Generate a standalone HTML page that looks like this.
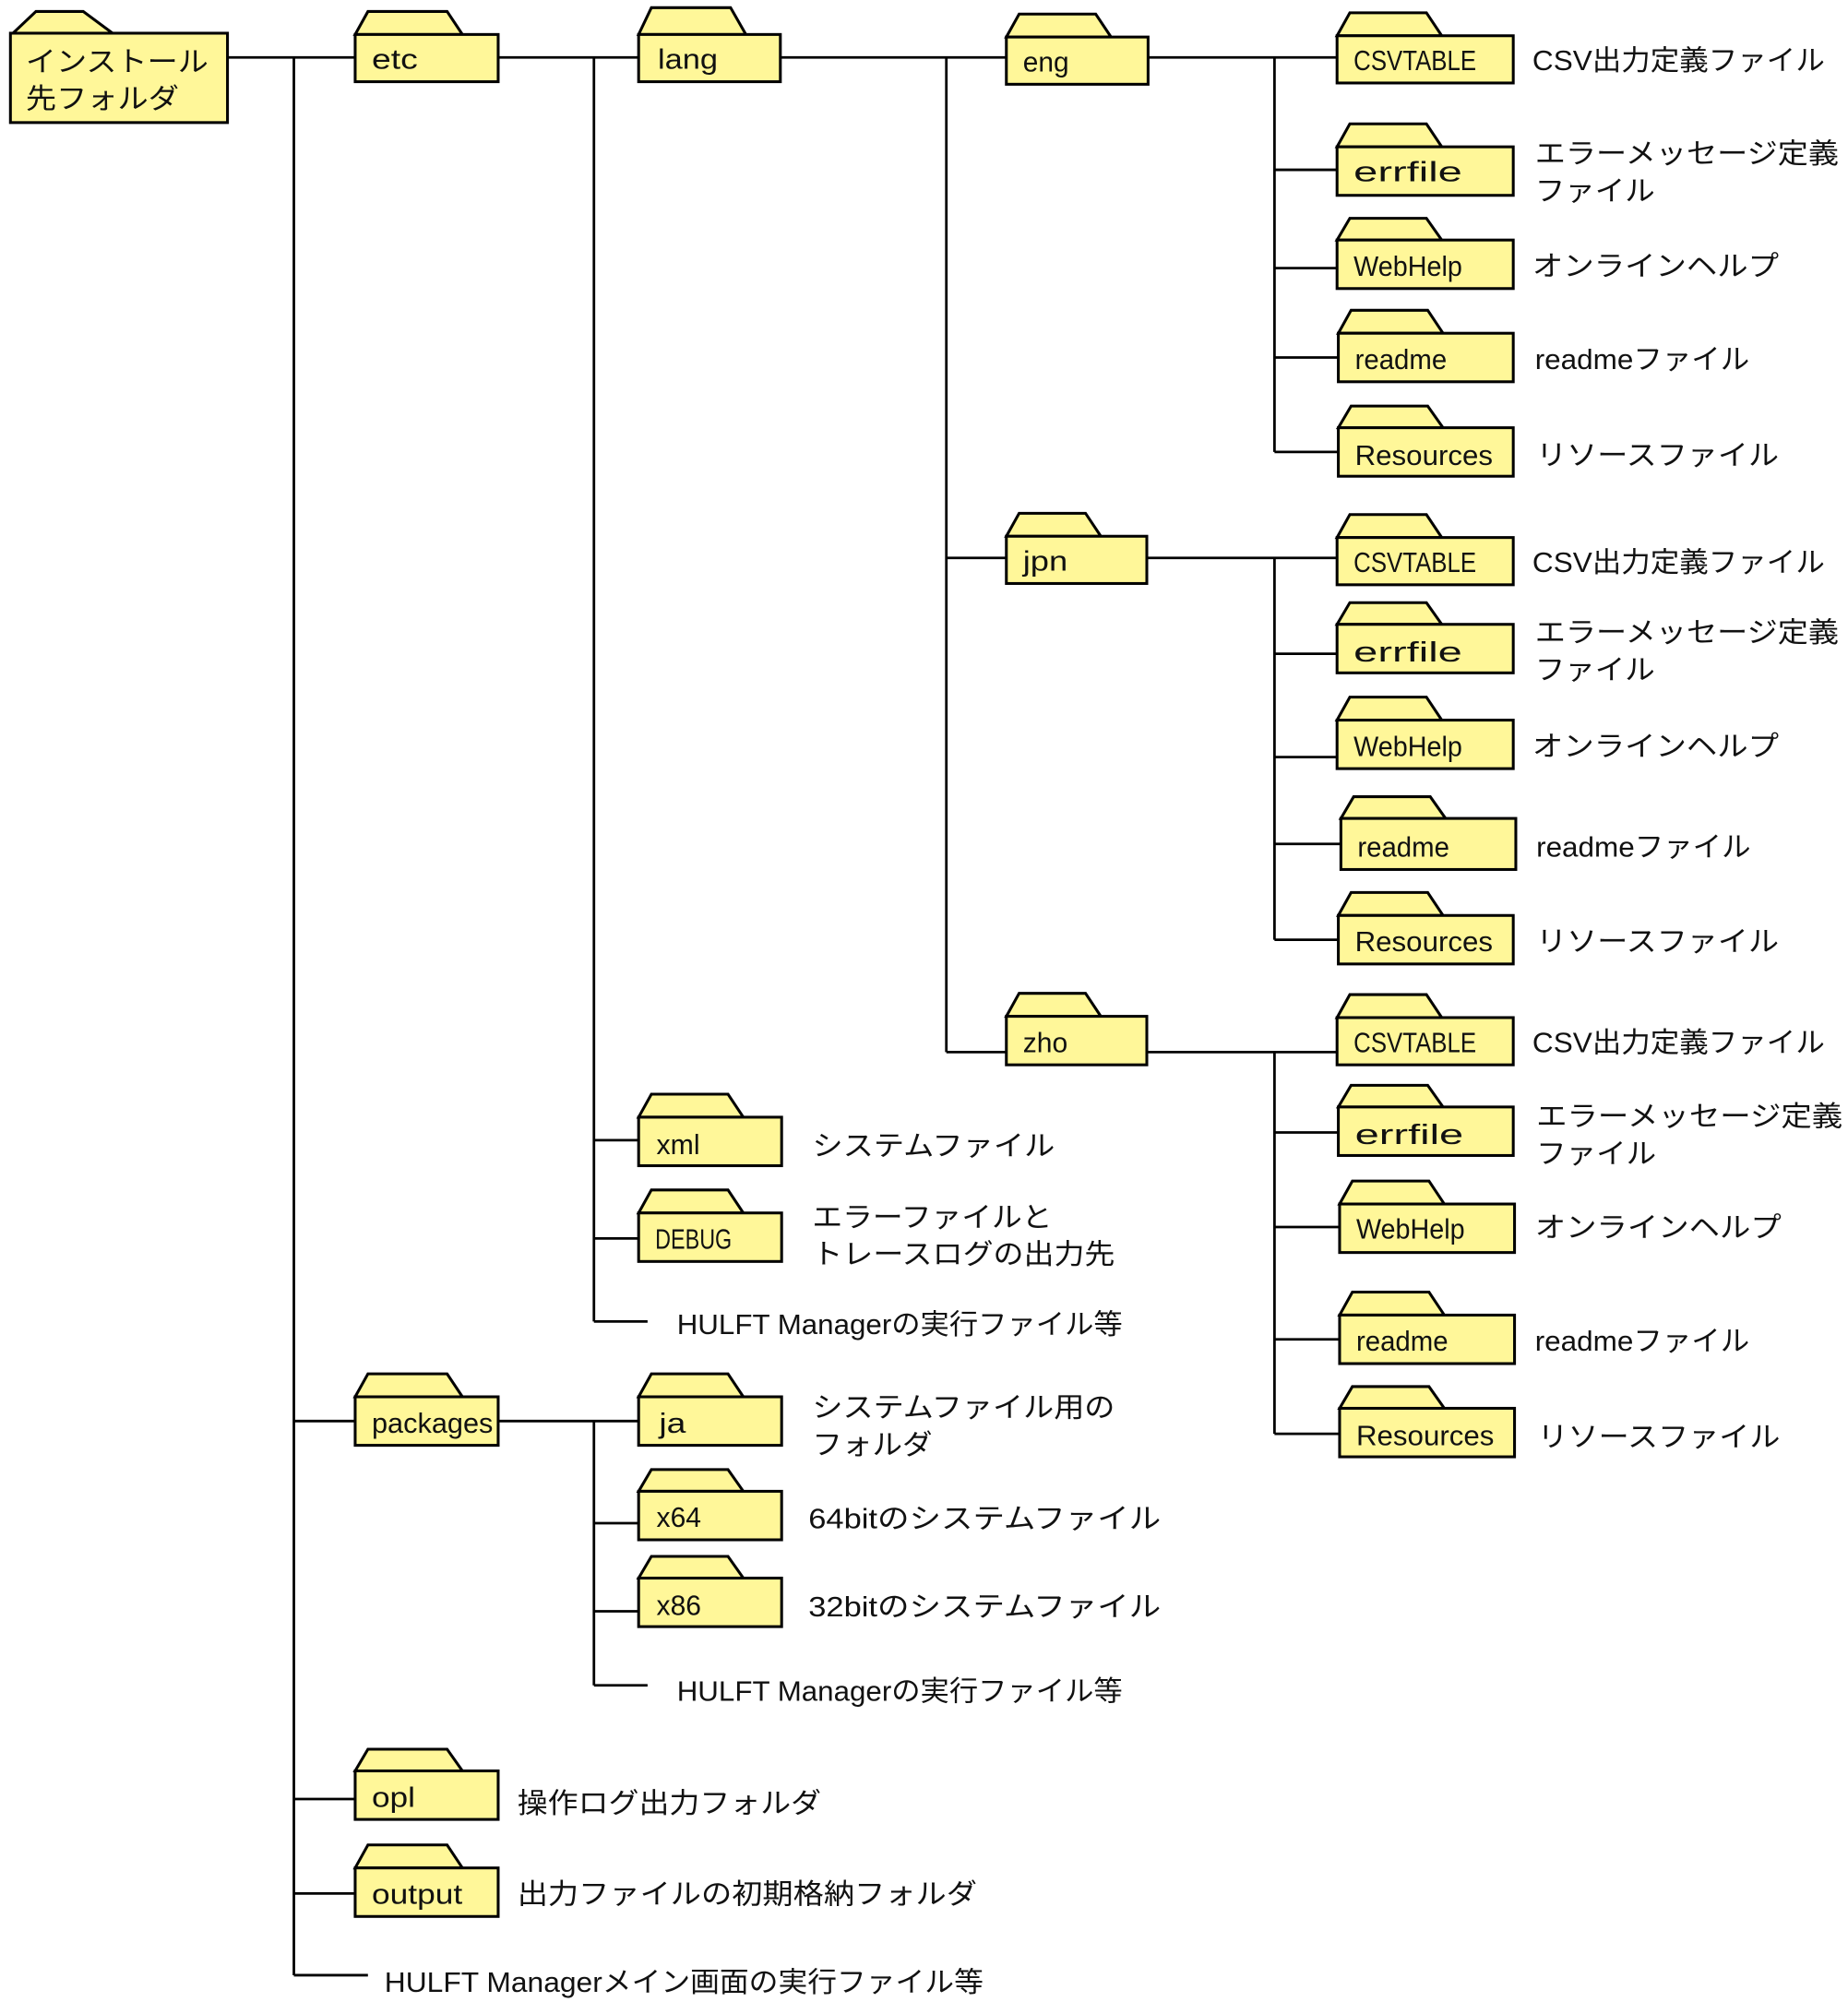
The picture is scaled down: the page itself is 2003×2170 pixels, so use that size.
<!DOCTYPE html>
<html><head><meta charset="utf-8"><style>
html,body{margin:0;padding:0;background:#fff;}
svg{display:block;}
text{font-family:"Liberation Sans","Noto Sans CJK JP",sans-serif;font-size:22px;fill:#111;}
.f path,.f rect{fill:#fff799;stroke:#000;stroke-width:2.2;}
.l{stroke:#000;stroke-width:2;fill:none;}
</style></head><body>
<svg width="2003" height="2170" viewBox="0 0 1447 1568" xmlns="http://www.w3.org/2000/svg">
<g class="l">
<path d="M178 45H278M230 45V1547M230 1113H278M230 1409H278M230 1483H278M230 1547H288"/>
<path d="M390 45H500M465 45V1035M465 893H500M465 970H500M465 1035H507"/>
<path d="M611 45H788M741 45V824M741 437H788M741 824H788"/>
<path d="M899 45H1047M998 45V354M998 133H1047M998 210H1047M998 280H1048M998 354H1048"/>
<path d="M898 437H1047M998 437V736M998 512H1047M998 593H1047M998 661H1050M998 736H1048"/>
<path d="M898 824H1047M998 824V1123M998 887H1048M998 961H1049M998 1049H1049M998 1123H1049"/>
<path d="M390 1113H500M465 1113V1320M465 1193H500M465 1262H500M465 1320H507"/>
</g>
<g class="f">
<path d="M10 26L28 9H65L88 26Z"/><rect x="8" y="26" width="170" height="70"/>
<path d="M278 27L288 9H350L362 27Z"/><rect x="278" y="27" width="112" height="37"/>
<path d="M500 27L510 6H572L584 27Z"/><rect x="500" y="27" width="111" height="37"/>
<path d="M788 29L798 11H858L870 29Z"/><rect x="788" y="29" width="111" height="37"/>
<path d="M1047 28L1057 10H1117L1129 28Z"/><rect x="1047" y="28" width="138" height="37"/>
<path d="M1047 115L1057 97H1117L1129 115Z"/><rect x="1047" y="115" width="138" height="38"/>
<path d="M1047 188L1057 171H1117L1129 188Z"/><rect x="1047" y="188" width="138" height="38"/>
<path d="M1048 261L1058 243H1118L1130 261Z"/><rect x="1048" y="261" width="137" height="38"/>
<path d="M1048 335L1058 318H1118L1130 335Z"/><rect x="1048" y="335" width="137" height="38"/>
<path d="M788 420L798 402H850L862 420Z"/><rect x="788" y="420" width="110" height="37"/>
<path d="M1047 421L1057 403H1117L1129 421Z"/><rect x="1047" y="421" width="138" height="37"/>
<path d="M1047 489L1057 472H1117L1129 489Z"/><rect x="1047" y="489" width="138" height="38"/>
<path d="M1047 564L1057 546H1117L1129 564Z"/><rect x="1047" y="564" width="138" height="38"/>
<path d="M1050 641L1060 624H1120L1132 641Z"/><rect x="1050" y="641" width="137" height="40"/>
<path d="M1048 717L1058 699H1118L1130 717Z"/><rect x="1048" y="717" width="137" height="38"/>
<path d="M788 796L798 778H850L862 796Z"/><rect x="788" y="796" width="110" height="38"/>
<path d="M1047 797L1057 779H1117L1129 797Z"/><rect x="1047" y="797" width="138" height="37"/>
<path d="M1048 867L1058 850H1118L1130 867Z"/><rect x="1048" y="867" width="137" height="38"/>
<path d="M1049 943L1059 925H1119L1131 943Z"/><rect x="1049" y="943" width="137" height="38"/>
<path d="M1049 1030L1059 1012H1119L1131 1030Z"/><rect x="1049" y="1030" width="137" height="38"/>
<path d="M1049 1103L1059 1086H1119L1131 1103Z"/><rect x="1049" y="1103" width="137" height="38"/>
<path d="M500 875L510 857H570L582 875Z"/><rect x="500" y="875" width="112" height="38"/>
<path d="M500 950L510 932H570L582 950Z"/><rect x="500" y="950" width="112" height="38"/>
<path d="M278 1094L288 1076H350L362 1094Z"/><rect x="278" y="1094" width="112" height="38"/>
<path d="M500 1094L510 1076H570L582 1094Z"/><rect x="500" y="1094" width="112" height="38"/>
<path d="M500 1168L510 1151H570L582 1168Z"/><rect x="500" y="1168" width="112" height="38"/>
<path d="M500 1236L510 1219H570L582 1236Z"/><rect x="500" y="1236" width="112" height="38"/>
<path d="M278 1387L288 1370H350L362 1387Z"/><rect x="278" y="1387" width="112" height="38"/>
<path d="M278 1463L288 1445H350L362 1463Z"/><rect x="278" y="1463" width="112" height="38"/>
</g>
<g lengthAdjust="spacingAndGlyphs">
<text x="20" y="56" textLength="143" lengthAdjust="spacingAndGlyphs">インストール</text>
<text x="20" y="85" textLength="120" lengthAdjust="spacingAndGlyphs">先フォルダ</text>
<text x="291" y="54" textLength="36" lengthAdjust="spacingAndGlyphs">etc</text>
<text x="515" y="54" textLength="47" lengthAdjust="spacingAndGlyphs">lang</text>
<text x="801" y="56" textLength="36" lengthAdjust="spacingAndGlyphs">eng</text>
<text x="801" y="447" textLength="35" lengthAdjust="spacingAndGlyphs">jpn</text>
<text x="801" y="824" textLength="35" lengthAdjust="spacingAndGlyphs">zho</text>

<text x="1060" y="55" textLength="96" lengthAdjust="spacingAndGlyphs">CSVTABLE</text>
<text x="1060" y="142" textLength="85" lengthAdjust="spacingAndGlyphs">errfile</text>
<text x="1060" y="216" textLength="85" lengthAdjust="spacingAndGlyphs">WebHelp</text>
<text x="1061" y="289" textLength="72" lengthAdjust="spacingAndGlyphs">readme</text>
<text x="1061" y="364" textLength="108" lengthAdjust="spacingAndGlyphs">Resources</text>
<text x="1060" y="448" textLength="96" lengthAdjust="spacingAndGlyphs">CSVTABLE</text>
<text x="1060" y="518" textLength="85" lengthAdjust="spacingAndGlyphs">errfile</text>
<text x="1060" y="592" textLength="85" lengthAdjust="spacingAndGlyphs">WebHelp</text>
<text x="1063" y="671" textLength="72" lengthAdjust="spacingAndGlyphs">readme</text>
<text x="1061" y="745" textLength="108" lengthAdjust="spacingAndGlyphs">Resources</text>
<text x="1060" y="824" textLength="96" lengthAdjust="spacingAndGlyphs">CSVTABLE</text>
<text x="1061" y="896" textLength="85" lengthAdjust="spacingAndGlyphs">errfile</text>
<text x="1062" y="970" textLength="85" lengthAdjust="spacingAndGlyphs">WebHelp</text>
<text x="1062" y="1058" textLength="72" lengthAdjust="spacingAndGlyphs">readme</text>
<text x="1062" y="1132" textLength="108" lengthAdjust="spacingAndGlyphs">Resources</text>

<text x="514" y="904" textLength="34" lengthAdjust="spacingAndGlyphs">xml</text>
<text x="513" y="978" textLength="60" lengthAdjust="spacingAndGlyphs">DEBUG</text>
<text x="291" y="1122" textLength="95" lengthAdjust="spacingAndGlyphs">packages</text>
<text x="516" y="1122" textLength="21" lengthAdjust="spacingAndGlyphs">ja</text>
<text x="514" y="1196" textLength="35" lengthAdjust="spacingAndGlyphs">x64</text>
<text x="514" y="1265" textLength="35" lengthAdjust="spacingAndGlyphs">x86</text>
<text x="291" y="1415" textLength="34" lengthAdjust="spacingAndGlyphs">opl</text>
<text x="291" y="1491" textLength="71" lengthAdjust="spacingAndGlyphs">output</text>

<text x="1200" y="55" textLength="229" lengthAdjust="spacingAndGlyphs">CSV出力定義ファイル</text>
<text x="1202" y="128" textLength="238" lengthAdjust="spacingAndGlyphs">エラーメッセージ定義</text>
<text x="1202" y="157" textLength="94" lengthAdjust="spacingAndGlyphs">ファイル</text>
<text x="1200" y="216" textLength="193" lengthAdjust="spacingAndGlyphs">オンラインヘルプ</text>
<text x="1202" y="289" textLength="168" lengthAdjust="spacingAndGlyphs">readmeファイル</text>
<text x="1203" y="364" textLength="190" lengthAdjust="spacingAndGlyphs">リソースファイル</text>

<text x="1200" y="448" textLength="229" lengthAdjust="spacingAndGlyphs">CSV出力定義ファイル</text>
<text x="1202" y="503" textLength="238" lengthAdjust="spacingAndGlyphs">エラーメッセージ定義</text>
<text x="1202" y="532" textLength="94" lengthAdjust="spacingAndGlyphs">ファイル</text>
<text x="1200" y="592" textLength="193" lengthAdjust="spacingAndGlyphs">オンラインヘルプ</text>
<text x="1203" y="671" textLength="168" lengthAdjust="spacingAndGlyphs">readmeファイル</text>
<text x="1203" y="745" textLength="190" lengthAdjust="spacingAndGlyphs">リソースファイル</text>

<text x="1200" y="824" textLength="229" lengthAdjust="spacingAndGlyphs">CSV出力定義ファイル</text>
<text x="1203" y="882" textLength="240" lengthAdjust="spacingAndGlyphs">エラーメッセージ定義</text>
<text x="1203" y="911" textLength="94" lengthAdjust="spacingAndGlyphs">ファイル</text>
<text x="1202" y="969" textLength="193" lengthAdjust="spacingAndGlyphs">オンラインヘルプ</text>
<text x="1202" y="1058" textLength="168" lengthAdjust="spacingAndGlyphs">readmeファイル</text>
<text x="1204" y="1133" textLength="190" lengthAdjust="spacingAndGlyphs">リソースファイル</text>

<text x="636" y="905" textLength="190" lengthAdjust="spacingAndGlyphs">システムファイル</text>
<text x="636" y="961" textLength="188" lengthAdjust="spacingAndGlyphs">エラーファイルと</text>
<text x="636" y="990" textLength="237" lengthAdjust="spacingAndGlyphs">トレースログの出力先</text>
<text x="530" y="1045" textLength="349" lengthAdjust="spacingAndGlyphs">HULFT Managerの実行ファイル等</text>
<text x="636" y="1110" textLength="237" lengthAdjust="spacingAndGlyphs">システムファイル用の</text>
<text x="636" y="1139" textLength="94" lengthAdjust="spacingAndGlyphs">フォルダ</text>
<text x="633" y="1197" textLength="276" lengthAdjust="spacingAndGlyphs">64bitのシステムファイル</text>
<text x="633" y="1266" textLength="276" lengthAdjust="spacingAndGlyphs">32bitのシステムファイル</text>
<text x="530" y="1332" textLength="349" lengthAdjust="spacingAndGlyphs">HULFT Managerの実行ファイル等</text>
<text x="405" y="1420" textLength="238" lengthAdjust="spacingAndGlyphs">操作ログ出力フォルダ</text>
<text x="405" y="1491" textLength="360" lengthAdjust="spacingAndGlyphs">出力ファイルの初期格納フォルダ</text>
<text x="301" y="1560" textLength="469" lengthAdjust="spacingAndGlyphs">HULFT Managerメイン画面の実行ファイル等</text>
</g>
</svg>
</body></html>
